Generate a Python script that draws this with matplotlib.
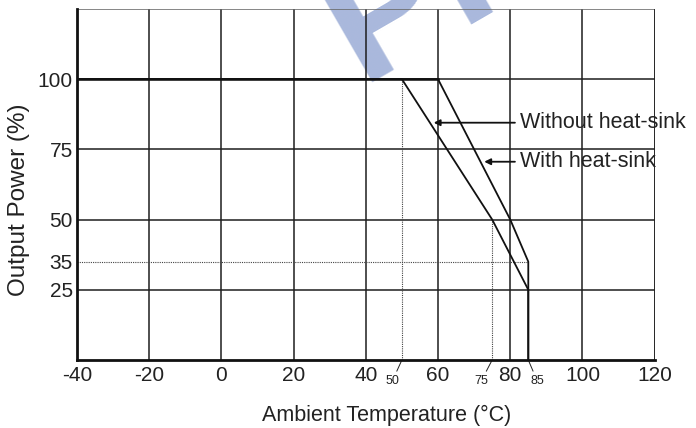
import matplotlib.pyplot as plt

plt.rcParams['font.family'] = ['Liberation Sans', 'DejaVu Sans']
plt.rcParams['axes.unicode_minus'] = False

# derating curves (temperature in degC, output power in %)
without_x = [-40, 50, 75, 85, 85]
without_y = [100, 100, 50, 25, 0]
with_x = [-40, 60, 80, 85, 85]
with_y = [100, 100, 50, 35, 0]

x_ticks = [-40, -20, 0, 20, 40, 60, 80, 100, 120]
y_ticks = [25, 35, 50, 75, 100]
grid_y = [25, 50, 75, 100]
small_marks = [50, 75, 85]

fig = plt.figure(figsize=(6.96, 4.28), dpi=100)
ax = fig.add_axes([0.1106, 0.159, 0.830, 0.820])
ax.patch.set_alpha(0)
ax.set_xlim(-40, 120)
ax.set_ylim(0, 125)

# watermark behind the axes
fig.text(0.518, 0.81, 'PI', fontsize=125, fontweight='bold', color='#a9b8dc',
         rotation=30, rotation_mode='anchor', ha='left', va='baseline',
         zorder=-5)

# grid
for x in x_ticks[1:]:
    ax.axvline(x, color='#1e1e1e', lw=1.1, zorder=1)
for y in grid_y:
    ax.axhline(y, color='#1e1e1e', lw=1.1, zorder=1)
ax.axhline(125, color='#666666', lw=1.1, zorder=1)

# dotted guides
dot = dict(color='#444444', lw=0.8, ls=(0, (1, 1)), zorder=2)
ax.plot([50, 50], [0, 100], **dot)
ax.plot([75, 75], [0, 50], **dot)
ax.plot([-40, 85], [35, 35], **dot)

# curves
ax.plot(without_x, without_y, color='#111111', lw=1.3, zorder=3)
ax.plot(with_x, with_y, color='#111111', lw=1.3, zorder=3)
ax.plot([-40, 60], [100, 100], color='#111111', lw=1.8, zorder=3)

# arrows + labels
arrow = dict(arrowstyle='-|>', color='#111111', lw=1.3,
             mutation_scale=9, shrinkA=0, shrinkB=0)
ax.annotate('', xy=(58.8, 84.5), xytext=(81.3, 84.5), arrowprops=arrow, zorder=4)
ax.annotate('', xy=(72.8, 70.6), xytext=(81.3, 70.6), arrowprops=arrow, zorder=4)
ax.text(82.8, 84.5, 'Without heat-sink', fontsize=15.5, color='#222222',
        va='center', ha='left', zorder=5)
ax.text(82.8, 70.6, 'With heat-sink', fontsize=15.5, color='#222222',
        va='center', ha='left', zorder=5)

# axes styling
for s in ['top', 'right']:
    ax.spines[s].set_visible(False)
for s in ['left', 'bottom']:
    ax.spines[s].set_linewidth(2.0)
    ax.spines[s].set_color('#111111')
    ax.spines[s].set_zorder(4)
ax.axvline(120, color='#1e1e1e', lw=1.1, zorder=1)

ax.set_xticks(x_ticks)
ax.set_yticks(y_ticks)
ax.tick_params(length=0, labelsize=15, colors='#222222')
ax.tick_params(axis='x', pad=4)
ax.tick_params(axis='y', pad=3)
ax.set_xlabel('Ambient Temperature (°C)', fontsize=15.5, color='#222222')
ax.set_ylabel('Output Power (%)', fontsize=17.5, color='#222222')
ax.xaxis.set_label_coords(0.536, -0.157)
ax.yaxis.set_label_coords(-0.100, 0.456)
ax.xaxis.label.set_va('center')
ax.yaxis.label.set_va('center')

# small temperature marks below the axis
offsets = {50: (-7, -11), 75: (-8, -11), 85: (6.5, -11)}
for m in small_marks:
    dx, dy = offsets[m]
    ax.annotate(str(m), xy=(m, 0), xytext=(dx, dy), textcoords='offset points',
                fontsize=9, color='#222222', ha='center', va='top',
                annotation_clip=False,
                arrowprops=dict(arrowstyle='-', color='#222222', lw=0.7,
                                shrinkA=1, shrinkB=1))

fig.savefig('out.png', dpi=100)
